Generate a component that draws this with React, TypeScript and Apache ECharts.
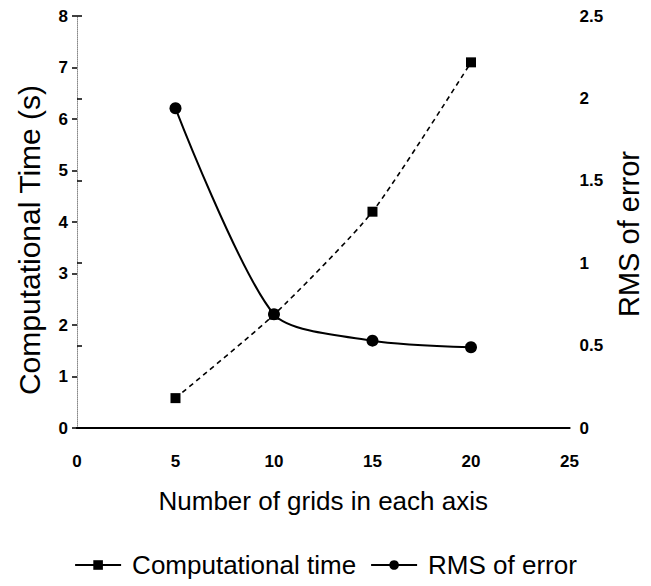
import React, { useEffect, useRef } from "react";
import * as echarts from "echarts";

const gridSizes = [5, 10, 15, 20];
const computationalTime = [0.58, 2.2, 4.2, 7.1];
const rmsError = [1.94, 0.69, 0.53, 0.49];
const leftTicks = [0, 1, 2, 3, 4, 5, 6, 7, 8];
const rightTicks = [0, 0.5, 1, 1.5, 2, 2.5];
const xTicks = [0, 5, 10, 15, 20, 25];

const FONT = "'Liberation Sans', Arial, sans-serif";

export default function App() {
  const ref = useRef<HTMLDivElement>(null);
  useEffect(() => {
    if (!ref.current) return;
    const chart = echarts.init(ref.current, undefined, { renderer: "svg" });
    const tickLabel = {
      color: "#000",
      fontFamily: FONT,
      fontSize: 17,
      fontWeight: "bold" as const,
    };
    chart.setOption({
      animation: false,
      backgroundColor: "#fff",
      textStyle: { fontFamily: FONT, color: "#000" },
      grid: { left: 77, right: 73, top: 16, bottom: 158, containLabel: false },
      xAxis: [
        {
          type: "value",
          min: xTicks[0],
          max: xTicks[xTicks.length - 1],
          interval: 5,
          position: "bottom",
          name: "Number of grids in each axis",
          nameLocation: "middle",
          nameGap: 60,
          nameTextStyle: { fontFamily: FONT, fontSize: 26, color: "#000" },
          axisLine: { show: true, lineStyle: { color: "#000", width: 2 } },
          axisTick: { show: false },
          axisLabel: { ...tickLabel, margin: 25 },
          splitLine: { show: false },
        },
        {
          type: "value",
          min: xTicks[0],
          max: xTicks[xTicks.length - 1],
          position: "top",
          axisLine: { show: true, lineStyle: { color: "#000", width: 2 } },
          axisTick: { show: false },
          axisLabel: { show: false },
          splitLine: { show: false },
        },
      ],
      yAxis: [
        {
          type: "value",
          min: leftTicks[0],
          max: leftTicks[leftTicks.length - 1],
          interval: 1,
          position: "left",
          name: "Computational Time (s)",
          nameLocation: "middle",
          nameGap: 33,
          nameTextStyle: {
            fontFamily: FONT,
            fontSize: 30,
            color: "#000",
            padding: [0, 36, 0, 0],
          },
          axisLine: { show: true, lineStyle: { color: "#888", width: 1, type: "dotted" } },
          axisTick: { show: true, inside: false, length: 5, lineStyle: { color: "#000", width: 1.5 } },
          axisLabel: { ...tickLabel, margin: 9 },
          splitLine: { show: false },
        },
        {
          type: "value",
          min: rightTicks[0],
          max: rightTicks[rightTicks.length - 1],
          interval: 0.5,
          position: "right",
          name: "RMS of error",
          nameLocation: "middle",
          nameGap: 42,
          nameTextStyle: {
            fontFamily: FONT,
            fontSize: 29,
            color: "#000",
            padding: [0, 24, 0, 0],
          },
          axisLine: { show: false },
          axisTick: { show: true, inside: false, length: 5, lineStyle: { color: "#000", width: 1.5 } },
          axisLabel: {
            ...tickLabel,
            margin: 10,
            formatter: (v: number) => String(v),
          },
          splitLine: { show: false },
        },
      ],
      legend: {
        bottom: 3,
        left: "center",
        itemWidth: 46,
        itemHeight: 12,
        itemGap: 14,
        textStyle: { fontFamily: FONT, fontSize: 26, color: "#000", padding: [0, 0, 0, 6] },
        data: [
          { name: "Computational time", lineStyle: { type: "solid", width: 2 } },
          { name: "RMS of error", lineStyle: { type: "solid", width: 2 } },
        ],
      },
      series: [
        {
          name: "Computational time",
          type: "line",
          xAxisIndex: 0,
          yAxisIndex: 0,
          data: gridSizes.map((x, i) => [x, computationalTime[i]]),
          smooth: 0.2,
          symbol: "rect",
          symbolSize: 10,
          itemStyle: { color: "#000" },
          lineStyle: { color: "#000", width: 1.6, type: [5, 4] },
        },
        {
          name: "RMS of error",
          type: "line",
          xAxisIndex: 0,
          yAxisIndex: 1,
          data: gridSizes.map((x, i) => [x, rmsError[i]]),
          smooth: 0.25,
          symbol: "circle",
          symbolSize: 12,
          itemStyle: { color: "#000" },
          lineStyle: { color: "#000", width: 2 },
        },
      ],
    });
    return () => chart.dispose();
  }, []);
  return (
    <div
      ref={ref}
      style={{ position: "fixed", left: 0, top: 0, width: 651, height: 586, background: "#fff" }}
    />
  );
}
